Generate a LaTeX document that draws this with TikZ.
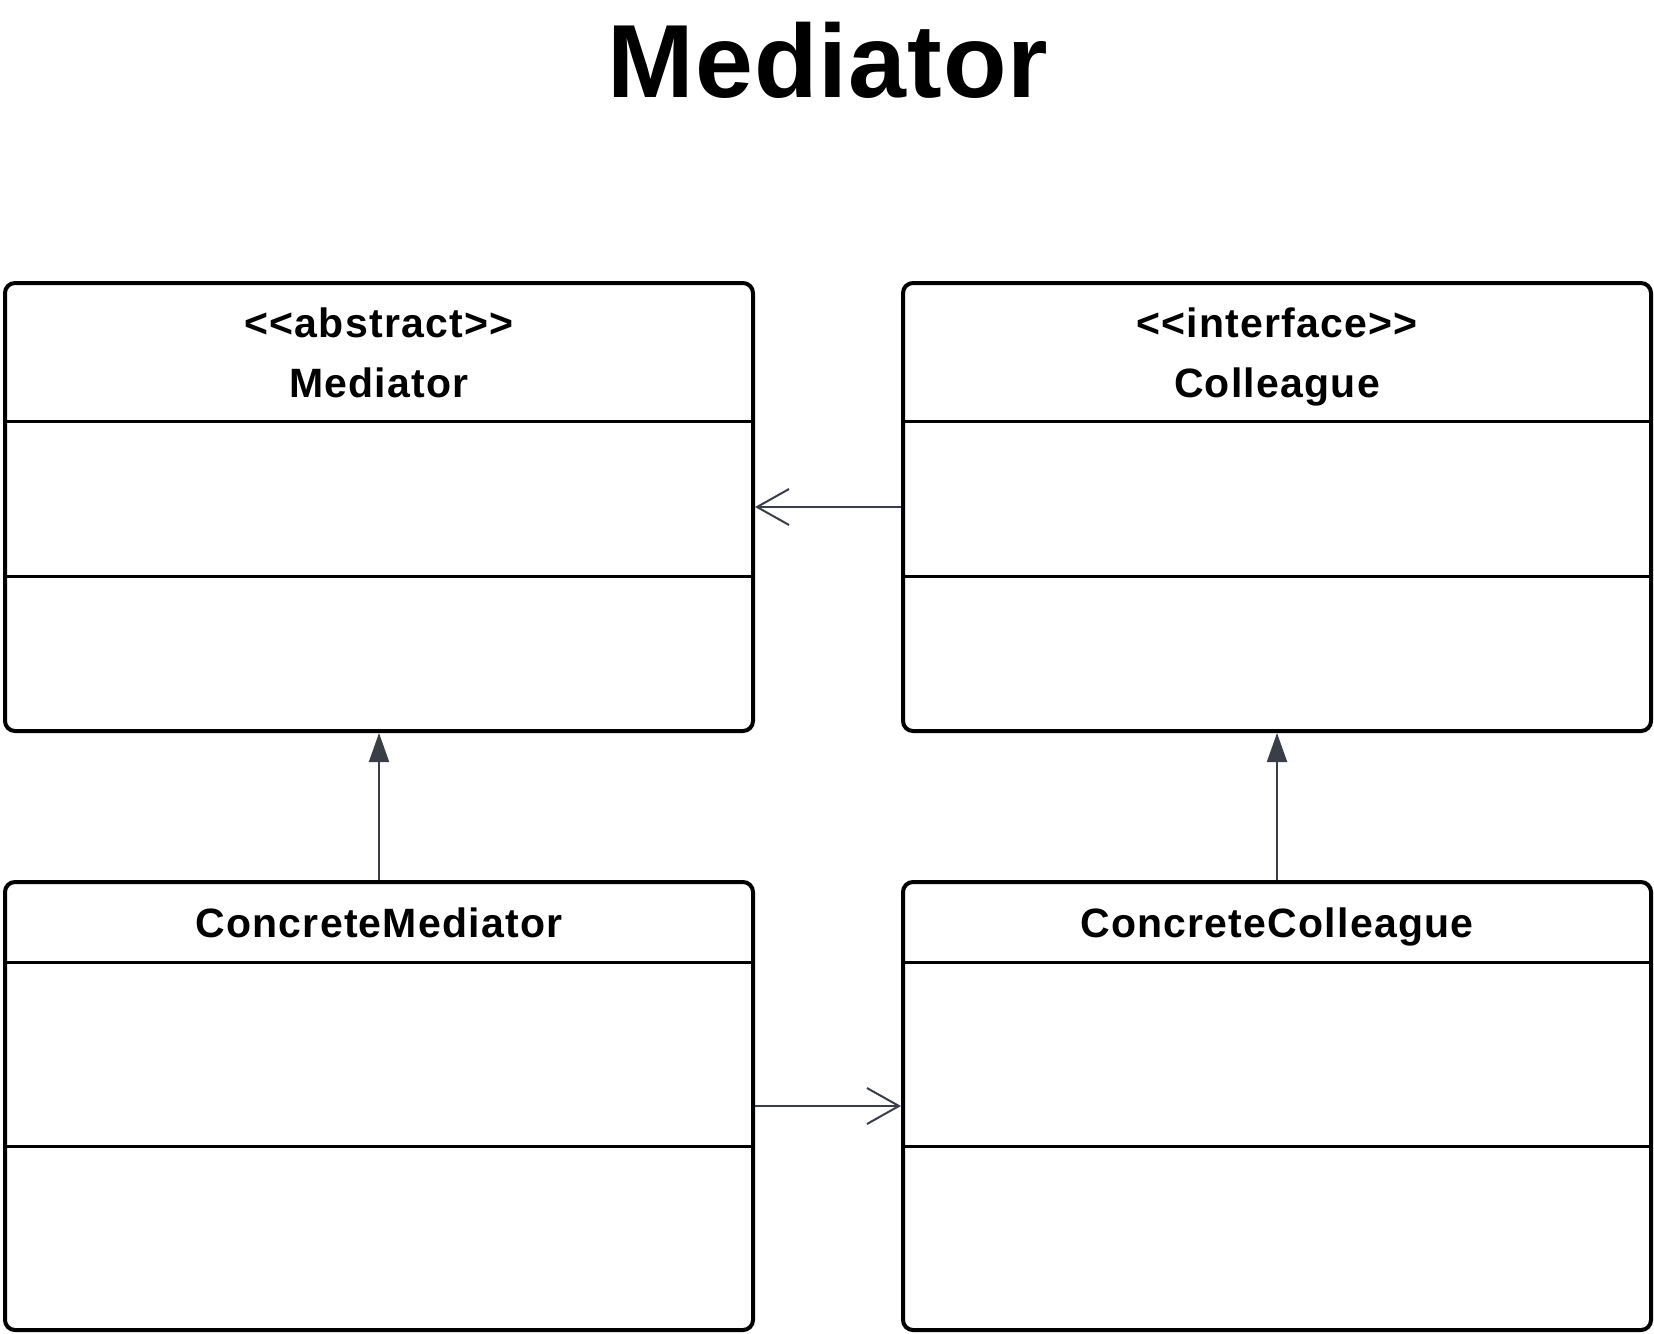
\documentclass[tikz,border=0pt]{standalone}
\usepackage{fontspec}
\setmainfont{Liberation Sans}
\newfontfamily\lblfont[LetterSpace=3]{Liberation Sans}
\newfontfamily\titlefont[LetterSpace=1]{Liberation Sans}
\usetikzlibrary{arrows.meta}
\definecolor{arrowgray}{HTML}{3A3F47}
\tikzset{
  classbox/.style={draw=black, line width=4pt, rounded corners=10pt, minimum width=748pt, minimum height=448pt, inner sep=0pt, fill=white},
  sepline/.style={draw=black, line width=3pt},
  lbl/.style={font=\lblfont\fontsize{41}{46}\selectfont\bfseries, inner sep=0pt, anchor=base},
  assoc/.style={draw=arrowgray, line width=2pt, -{Straight Barb[length=32pt,width=36pt,line width=2pt]}},
  inherit/.style={draw=arrowgray, line width=2pt, -{Triangle[length=29pt,width=20pt]}, fill=arrowgray},
}
\begin{document}
\begin{tikzpicture}[x=1pt,y=-1pt]
\useasboundingbox (0,0) rectangle (1654,1333);
\node[font=\titlefont\fontsize{104}{110}\selectfont\bfseries, inner sep=0pt] (title) at (828,60) {Mediator};

% boxes
\node[classbox] (med) at (379,507) {};
\node[classbox] (col) at (1277,507) {};
\node[classbox] (cmed) at (379,1106) {};
\node[classbox] (ccol) at (1277,1106) {};

% separators
\draw[sepline] (med.west |- 0,421) -- (med.east |- 0,421);
\draw[sepline] (med.west |- 0,576) -- (med.east |- 0,576);
\draw[sepline] (col.west |- 0,421) -- (col.east |- 0,421);
\draw[sepline] (col.west |- 0,576) -- (col.east |- 0,576);
\draw[sepline] (cmed.west |- 0,962) -- (cmed.east |- 0,962);
\draw[sepline] (cmed.west |- 0,1146) -- (cmed.east |- 0,1146);
\draw[sepline] (ccol.west |- 0,962) -- (ccol.east |- 0,962);
\draw[sepline] (ccol.west |- 0,1146) -- (ccol.east |- 0,1146);

% labels
\node[lbl] (medst) at (379,337) {<{}<abstract>{}>};
\node[lbl] (medname) at (379,397) {Mediator};
\node[lbl] (colst) at (1277,337) {<{}<interface>{}>};
\node[lbl] (colname) at (1277,397) {Colleague};
\node[lbl] (cmedname) at (379,937) {ConcreteMediator};
\node[lbl] (ccolname) at (1277,937) {ConcreteColleague};

% connectors
\draw[assoc] (col.west) -- (med.east);
\draw[assoc] (cmed.east) -- (ccol.west);
\draw[inherit] (cmed.north) -- (med.south);
\draw[inherit] (ccol.north) -- (col.south);
\end{tikzpicture}
\end{document}
